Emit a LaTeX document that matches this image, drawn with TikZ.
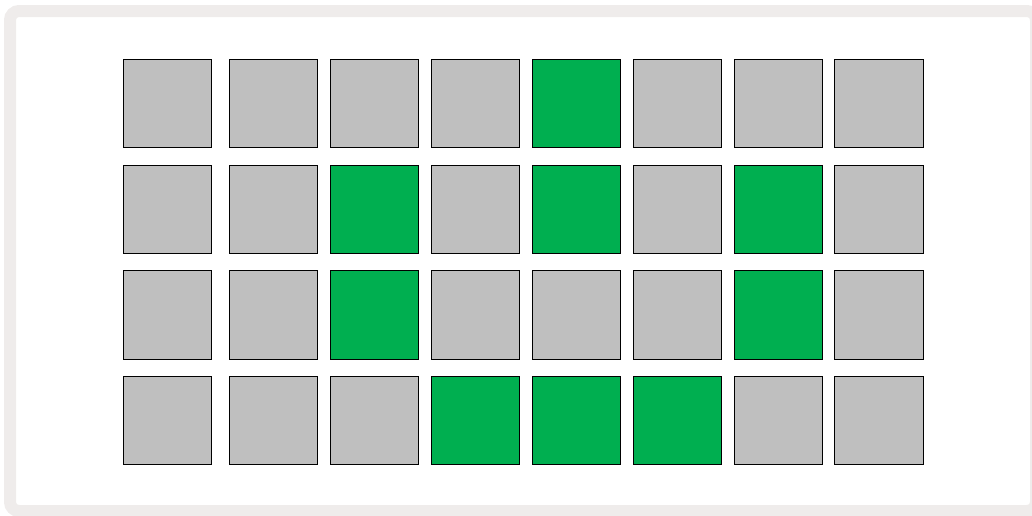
\documentclass[tikz,border=0pt]{standalone}
\usepackage{xcolor}
\usepackage{tikz}
\usetikzlibrary{positioning}

\definecolor{padgray}{HTML}{BFBFBF}
\definecolor{padgreen}{HTML}{00AF50}
\definecolor{framegray}{HTML}{EFECEB}

\tikzset{
  pad/.style={draw=black, line width=0.8pt, fill=padgray,
    minimum size=88.5pt, inner sep=0pt, outer sep=0pt},
  lit/.style={pad, fill=padgreen}
}

\begin{document}
\begin{tikzpicture}[x=1pt, y=-1pt]
    \useasboundingbox (0,0) rectangle (1032,515);
    % Outer frame
    \draw[line width=12pt, framegray, rounded corners=9pt] (10,11) rectangle (1036,511);
    % Grid of pads (row, column)
    \foreach \r/\y in {1/103.5, 2/209.2, 3/314.8, 4/420.2} {
      \foreach \c/\x in {1/167.5, 2/273.5, 3/374.5, 4/475.5, 5/576.5, 6/677.5, 7/778.5, 8/879} {
        \node[pad] (pad-\r-\c) at (\x,\y) {};
      }
    }
    % Lit pads
    \foreach \r/\c in {1/5, 2/3, 2/5, 2/7, 3/3, 3/7, 4/4, 4/5, 4/6} {
      \node[lit] at (pad-\r-\c) {};
    }
\end{tikzpicture}
\end{document}
